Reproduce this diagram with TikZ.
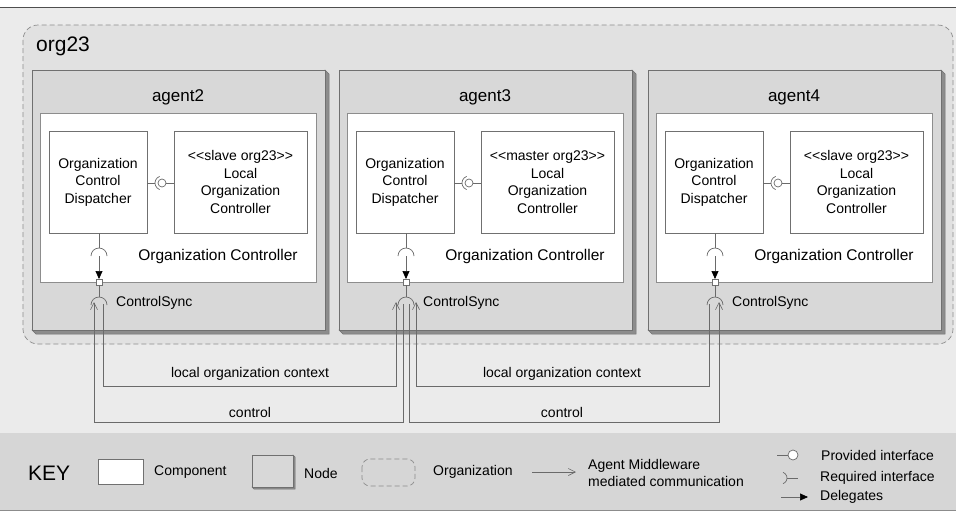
\documentclass[tikz,border=0pt]{standalone}
\usepackage{fontspec}
\setmainfont{Liberation Sans}
\usetikzlibrary{arrows.meta}

\definecolor{pagebg}{HTML}{EBEBEB}
\definecolor{orgbg}{HTML}{E1E1E1}
\definecolor{nodebg}{HTML}{D8D8D8}
\definecolor{keybg}{HTML}{D6D6D6}
\definecolor{edgecol}{HTML}{707070}
\definecolor{sidecol}{HTML}{8C8C8C}
\definecolor{wirecol}{HTML}{6A6A6A}

\tikzset{
  agentbox/.style={draw=edgecol, fill=nodebg, line width=0.7pt, inner sep=0pt, outer sep=0pt, anchor=north west},
  nodeside/.style={fill=sidecol, draw=edgecol, line width=0.5pt},
  ocbox/.style={draw=edgecol!80, fill=white, line width=0.6pt, inner sep=0pt, outer sep=0pt, anchor=north west},
  compbox/.style={draw=edgecol, fill=white, line width=0.6pt, inner sep=0pt, outer sep=0pt,
    align=center, font=\fontsize{14}{17.5}\selectfont},
  titletext/.style={font=\fontsize{17}{20}\selectfont, inner sep=0pt},
  octext/.style={font=\fontsize{15.5}{18}\selectfont, inner sep=0pt},
  smalltext/.style={font=\fontsize{14}{17.5}\selectfont, inner sep=0pt},
  bigtext/.style={font=\fontsize{21}{24}\selectfont, inner sep=0pt},
  wire/.style={draw=wirecol, line width=0.7pt},
  msgarrow/.style={wire, -{Straight Barb[length=7pt,width=7pt,line width=0.6pt]}},
  delegarrow/.style={draw=wirecol, line width=0.7pt, -{Triangle[length=8pt,width=7pt,color=black]}},
  portbox/.style={draw=edgecol, fill=white, line width=0.6pt, minimum size=6pt, inner sep=0pt, outer sep=0pt},
  orgframe/.style={draw=sidecol, dash pattern=on 5pt off 3pt, line width=0.7pt, rounded corners=15pt},
}

% One deployment node with its organization controller.
% #1 left edge, #2 id, #3 title, #4 role in org23
\newcommand{\agentblock}[4]{%
  \begin{scope}[shift={(#1,0)}]
    \filldraw[nodeside] (293,70) -- (297,74) -- (297,334) -- (4,334) -- (0,330) -- (293,330) -- cycle;
    \node[agentbox, minimum width=293pt, minimum height=260pt] (ag#2) at (0,70) {};
    \node[titletext] (agt#2) at (146,97) {#3};
    \node[ocbox, minimum width=276pt, minimum height=169pt] (oc#2) at (8,113) {};
    \node[compbox, minimum width=98pt, minimum height=102pt] (disp#2) at (66,182)
      {Organization\\Control\\Dispatcher};
    \node[compbox, minimum width=133pt, minimum height=102pt] (loc#2) at (208.5,182)
      {<\kern0pt<#4 org23>\kern0pt>\\Local\\Organization\\Controller};
    \node[octext] (oct#2) at (186,256) {Organization Controller};
    % assembly connector between dispatcher and local controller
    \coordinate (ball#2) at (130,183);
    \draw[wire] (disp#2.east |- ball#2) -- ([xshift=-7pt]ball#2);
    \draw[wire] ([shift={(110:7pt)}]ball#2) arc[start angle=110, end angle=250, radius=7pt];
    \draw[wire, fill=white] (ball#2) circle[radius=4pt];
    \draw[wire] ([xshift=4pt]ball#2) -- (loc#2.west |- ball#2);
    % delegation to the ControlSync port
    \node[portbox] (port#2) at (67,282) {};
    \coordinate (req#2) at (67,256);
    \draw[wire] (disp#2.south -| req#2) -- ([yshift=8pt]req#2);
    \draw[wire] ([xshift=-8pt]req#2) arc[start angle=180, end angle=0, radius=8pt];
    \draw[delegarrow] (req#2) -- (port#2.north);
    \coordinate (sync#2) at (67,305);
    \draw[wire] (port#2.south) -- ([yshift=8pt]sync#2);
    \draw[wire] ([xshift=-8pt]sync#2) arc[start angle=180, end angle=0, radius=8pt];
    \node[smalltext, anchor=west] (cs#2) at (84,303) {ControlSync};
  \end{scope}}

\begin{document}
\begin{tikzpicture}[x=1pt, y=-1pt]
  \useasboundingbox (0,0) rectangle (956,512);
  \fill[white] (0,0) rectangle (956,512);
  \fill[pagebg] (0,7) rectangle (956,433);
  \draw[edgecol!70!black, line width=1pt] (0,7) -- (956,7);
  \fill[keybg] (0,433) rectangle (956,510);
  \draw[sidecol, line width=0.8pt] (0,510) -- (956,510);

  % organization frame
  \filldraw[orgframe, fill=orgbg] (23,25) rectangle (953,344);
  \node[bigtext, anchor=west] (orgname) at (36,46) {org23};

  \agentblock{32}{2}{agent2}{slave}
  \agentblock{339}{3}{agent3}{master}
  \agentblock{648}{4}{agent4}{slave}

  % ends of the middleware channels below each ControlSync port
  \coordinate (c2in)  at ([xshift=-5pt]sync2);
  \coordinate (c2out) at ([xshift=4pt]sync2);
  \coordinate (c3inA) at ([xshift=-10pt]sync3);
  \coordinate (c3outA) at ([xshift=-3pt]sync3);
  \coordinate (c3outB) at ([xshift=3pt]sync3);
  \coordinate (c3inB) at ([xshift=10pt]sync3);
  \coordinate (c4out) at ([xshift=-6pt]sync4);
  \coordinate (c4in)  at ([xshift=4pt]sync4);

  % agent2 -> agent3 : local organization context
  \draw[msgarrow] ([yshift=1pt]c2out) -- ++(0,82) -| ([yshift=3pt]c3inA);
  % agent3 -> agent2 : control
  \draw[msgarrow] ([yshift=1pt]c3outA) -- ++(0,118) -| ([yshift=3pt]c2in);
  % agent3 -> agent4 : control
  \draw[msgarrow] ([yshift=1pt]c3outB) -- ++(0,118) -| ([yshift=3pt]c4in);
  % agent4 -> agent3 : local organization context
  \draw[msgarrow] ([yshift=1pt]c4out) -- ++(0,82) -| ([yshift=3pt]c3inB);

  \node[smalltext] (ctxA) at (250,374) {local organization context};
  \node[smalltext] (ctlA) at (250,412) {control};
  \node[smalltext] (ctxB) at (562,374) {local organization context};
  \node[smalltext] (ctlB) at (562,412) {control};

  % key
  \node[bigtext, anchor=west] (keytitle) at (28,473) {KEY};
  \node[compbox, minimum width=45pt, minimum height=25pt, anchor=north west] (keycomp) at (98,459) {};
  \node[smalltext, anchor=west] (keycompt) at (154,472) {Component};
  \filldraw[nodeside] (293,455) -- (295,457) -- (295,489) -- (254,489) -- (252,487) -- (293,487) -- cycle;
  \node[agentbox, minimum width=41pt, minimum height=32pt] (keynode) at (252,455) {};
  \node[smalltext, anchor=west] (keynodet) at (304,473) {Node};
  \draw[orgframe, rounded corners=8pt] (362,459) rectangle (415,486);
  \node[smalltext, anchor=west] (keyorgt) at (433,472) {Organization};
  \coordinate (keyarrA) at (532,472);
  \coordinate (keyarrB) at (576,472);
  \draw[msgarrow] (keyarrA) -- (keyarrB);
  \node[smalltext, anchor=west, align=left] (keymsg) at (588,473) {Agent Middleware\\mediated communication};

  \coordinate (provA) at (777,455);
  \coordinate (provB) at (793,455);
  \draw[wire] (provA) -- ([xshift=-5pt]provB);
  \draw[wire, fill=white] (provB) circle[radius=5pt];
  \node[smalltext, anchor=west] (keyprov) at (821,455) {Provided interface};

  \coordinate (reqA) at (781,478);
  \draw[wire] ([shift={(-70:6pt)}]reqA) arc[start angle=-70, end angle=70, radius=6pt];
  \draw[wire] ([xshift=6pt]reqA) -- ([xshift=17pt]reqA);
  \node[smalltext, anchor=west] (keyreq) at (820,478) {Required interface};

  \coordinate (delA) at (781,497);
  \coordinate (delB) at (808,497);
  \draw[delegarrow] (delA) -- (delB);
  \node[smalltext, anchor=west] (keydel) at (820,497) {Delegates};
\end{tikzpicture}
\end{document}
